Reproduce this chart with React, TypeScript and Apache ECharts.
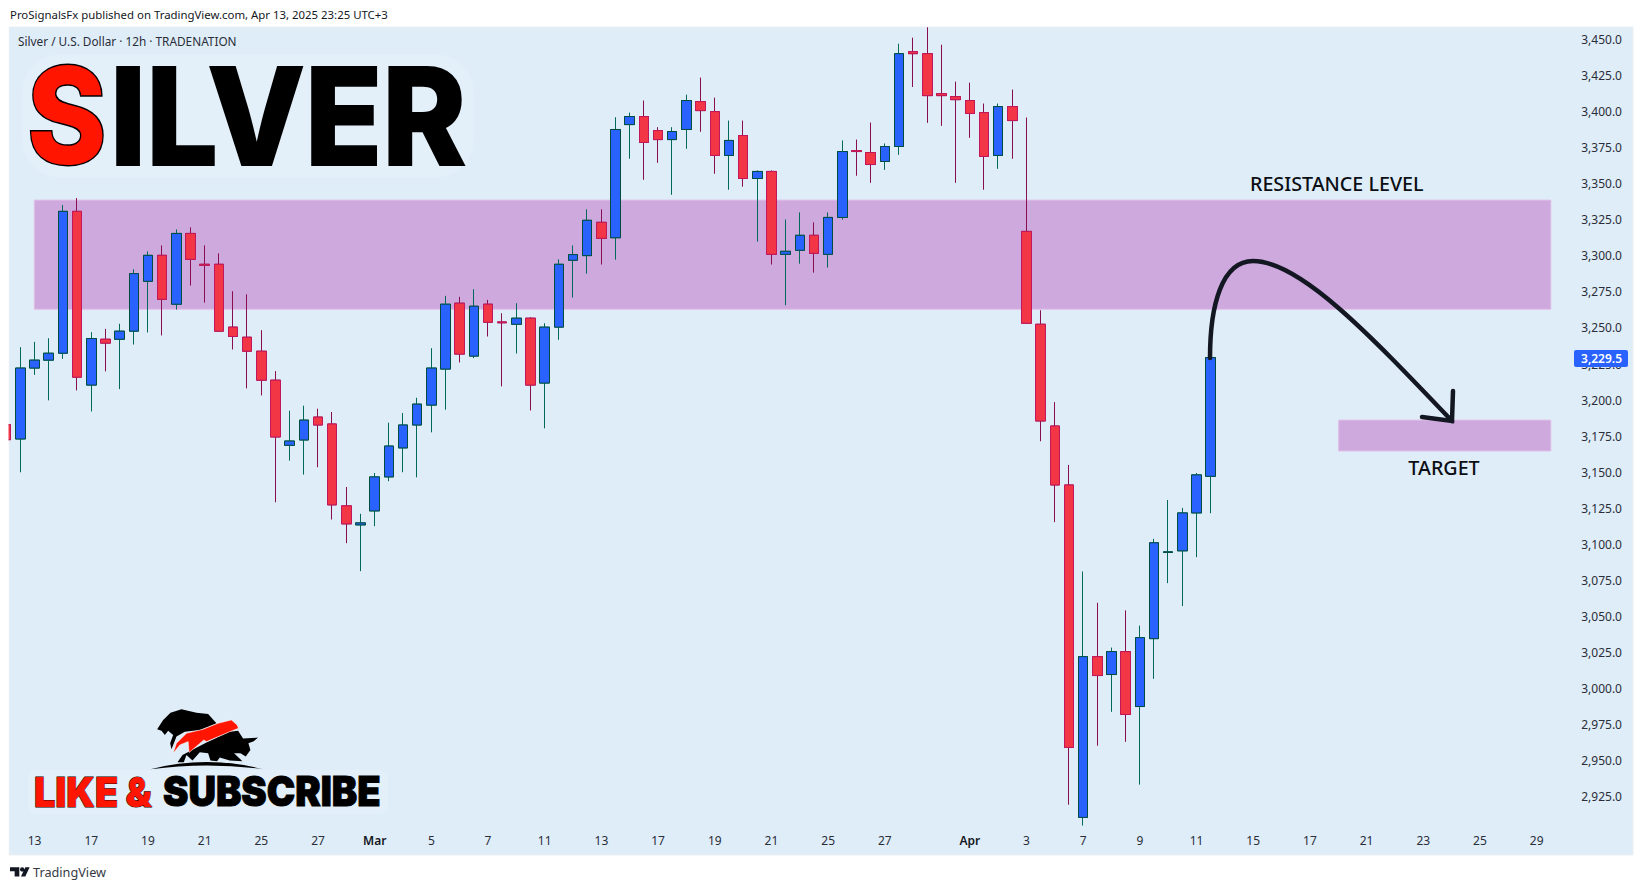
import React, { useEffect, useRef } from "react";
import * as echarts from "echarts";

const firstCandleIndex = -1;
const opens = [3182.9,3173.0,3222.2,3227.7,3232.5,3330.9,3210.4,3242.2,3242.2,3247.8,3282.4,3300.4,3266.5,3315.6,3294.2,3294.2,3250.6,3243.6,3233.9,3213.8,3168.6,3172.3,3188.2,3183.4,3126.6,3113.4,3123.1,3146.7,3166.8,3182.7,3196.5,3221.5,3267.2,3230.5,3266.5,3254.2,3252.6,3256.8,3211.8,3250.6,3297.0,3300.2,3323.3,3312.6,3391.1,3396.7,3387.0,3380.7,3387.7,3407.1,3400.1,3369.7,3383.5,3353.7,3358.6,3301.1,3303.9,3314.3,3301.1,3326.7,3373.1,3371.7,3365.5,3375.9,3441.7,3440.3,3412.6,3410.5,3407.8,3399.4,3369.7,3403.6,3317.0,3252.6,3182.0,3141.1,2910.5,3022.0,3009.6,3025.5,2987.4,3034.5,3094.3,3095.4,3121.7,3147.1];
const closes = [3172.5,3222.2,3227.7,3232.5,3330.9,3215.9,3242.7,3239.5,3247.8,3287.7,3300.4,3269.9,3315.6,3297.6,3293.5,3247.8,3244.1,3233.9,3213.8,3174.4,3171.6,3186.1,3182.7,3127.3,3114.1,3114.8,3146.7,3168.1,3182.7,3197.2,3222.2,3266.5,3231.9,3265.1,3254.0,3253.6,3256.8,3210.4,3250.6,3294.2,3300.9,3324.7,3312.2,3387.7,3396.7,3378.7,3380.7,3386.3,3407.8,3400.8,3369.7,3380.1,3353.7,3358.6,3301.1,3303.2,3314.3,3301.8,3326.7,3372.4,3372.4,3363.4,3375.9,3440.3,3440.3,3411.2,3411.2,3408.4,3398.8,3369.0,3403.6,3393.9,3253.3,3185.5,3141.1,2959.0,3022.0,3008.9,3025.5,2981.9,3035.2,3101.0,3094.7,3121.7,3148.1,3229.5];
const highs = [3186.0,3236.7,3240.4,3242.9,3335.3,3340.1,3247.1,3249.4,3252.9,3290.7,3303.2,3307.3,3318.4,3319.8,3307.3,3301.8,3275.5,3273.4,3248.5,3220.1,3192.6,3196.1,3194.0,3191.7,3139.7,3121.1,3149.4,3184.3,3191.0,3201.6,3236.0,3272.3,3271.6,3276.9,3269.5,3260.2,3267.2,3257.5,3253.3,3297.6,3307.3,3332.3,3332.3,3396.2,3399.4,3407.8,3389.3,3389.3,3411.9,3423.7,3409.8,3393.9,3393.9,3359.3,3359.3,3325.3,3330.2,3323.3,3330.2,3380.1,3380.7,3392.5,3378.0,3447.2,3451.4,3458.6,3446.5,3420.9,3420.2,3405.7,3405.7,3415.4,3396.0,3262.3,3198.6,3155.0,3081.1,3059.4,3028.3,3054.1,3043.5,3103.7,3130.7,3125.2,3149.4,3229.5];
const lows = [3170.0,3149.9,3217.5,3199.8,3228.6,3206.7,3192.1,3219.9,3207.6,3238.5,3246.9,3244.8,3262.8,3279.4,3267.6,3247.8,3235.1,3208.1,3203.2,3129.1,3158.0,3148.3,3153.4,3117.1,3100.7,3081.3,3112.5,3143.7,3149.9,3146.4,3177.6,3193.3,3226.1,3229.1,3244.1,3209.5,3232.3,3192.8,3180.4,3241.8,3271.1,3287.7,3294.0,3297.4,3367.4,3352.8,3364.6,3342.4,3374.3,3386.1,3357.0,3345.9,3348.0,3309.9,3294.0,3265.8,3294.6,3288.4,3291.9,3325.1,3355.6,3350.7,3359.7,3370.1,3417.2,3392.3,3390.2,3350.7,3381.9,3345.9,3360.4,3367.4,3253.3,3171.4,3115.3,2919.3,2904.8,2960.2,2983.7,2962.9,2933.2,3006.6,3073.0,3057.1,3091.0,3121.5];

const priceTicks = [2925,2950,2975,3000,3025,3050,3075,3100,3125,3150,3175,3200,3225,3250,3275,3300,3325,3350,3375,3400,3425,3450];
const dateTickPositions = [1,5,9,13,17,21,25,29,33,37,41,45,49,53,57,61,67,71,75,79,83,87,91,95,99,103,107];
const dateTickLabels = ["13","17","19","21","25","27","Mar","5","7","11","13","17","19","21","25","27","Apr","3","7","9","11","15","17","21","23","25","29"];
const resistanceZone = { priceTop: 3338.7, priceBottom: 3263.0, from: 0.98, to: 108.0 };
const targetZone = { priceTop: 3186.1, priceBottom: 3164.7, from: 93.03, to: 108.0 };
const lastPrice = 3229.5;

const BG = "#DFEDF8";
const ZONE = "#CEA9DE";
const ZONE_EDGE = "#E1BEE7";
const UP = "#2962FF";
const DOWN = "#F23645";

const bearPath = "M472,118 L490,90 L512,68 L545,58 L590,68 L625,72 L650,100 L600,120 L555,125 L530,140 L515,178 L511,160 L520,135 L505,122 L495,135 L485,122 Z";
const arrowPath = "M520,190 L530,160 L560,130 L610,118 L655,100 L695,90 L712,105 L716,115 L690,125 L620,155 L612,150 L568,188 L565,155 L540,165 Z";
const bullPath = "M533,217 L548,195 L568,185 L620,158 L690,125 L715,122 L730,146 L775,143 L762,154 L746,160 L752,180 L738,200 L722,190 L703,190 L728,214 L690,212 L660,203 L652,214 L632,212 L625,190 L600,187 L578,212 L560,195 L552,217 Z";
const groundPath = "M452,238 Q620,195 790,238 Q620,215 452,238 Z";
const tvPath = "M30,532 L58,532 L58,560 L44,560 L44,544 L30,544 Z M60,539 A6.5,6.5 0 1 1 73,539 A6.5,6.5 0 1 1 60,539 Z M76,532 L89,532 L76,560 L63,560 Z";
const curvePath = "M1210,358 C1210,305 1222,261 1253,261 C1300,261 1370,335 1452,421";
const headPath = "M1453,391 L1452,421 L1422,417";

export default function App() {
  const ref = useRef<HTMLDivElement>(null);
  useEffect(() => {
    document.body.style.margin = "0";
    document.body.style.background = "#fff";
    const reg = (name: string, d: string) => echarts.graphic.registerShape(name, echarts.graphic.extendPath(d, {}));
    reg("bear", bearPath);
    reg("bullArrow", arrowPath);
    reg("bull", bullPath);
    reg("ground", groundPath);
    reg("tvLogo", tvPath);
    reg("curve", curvePath);
    reg("head", headPath);

    const chart = echarts.init(ref.current!, null, { renderer: "svg" });
    const candles = opens.map((o, k) => [k + firstCandleIndex, o, closes[k], lows[k], highs[k]]);
    const bodies = opens.map((o, k) => [k + firstCandleIndex, o, closes[k], Math.min(o, closes[k]), Math.max(o, closes[k])]);
    const logoBase = { x: 0, y: 690, scaleX: 1 / 3, scaleY: 1 / 3 };
    const glow = { fill: "rgba(255,255,255,0.14)" };

    chart.setOption({
      animation: false,
      backgroundColor: "#ffffff",
      grid: { left: 9, top: 27, width: 1624, height: 828, show: true, backgroundColor: BG, borderColor: "#EDEFF1", borderWidth: 1, containLabel: false },
      xAxis: {
        type: "value", min: -0.805, max: 113.8, position: "bottom",
        axisLine: { show: false }, axisTick: { show: false }, splitLine: { show: false },
        axisLabel: {
          inside: true, margin: 9, color: "#2A2E39", fontFamily: "Noto Sans", fontSize: 12,
          customValues: dateTickPositions, hideOverlap: false,
          formatter: (v: number) => {
            const s = dateTickLabels[dateTickPositions.indexOf(v)] ?? "";
            return s === "Mar" || s === "Apr" ? `{m|${s}}` : s;
          },
          rich: { m: { fontWeight: 600, color: "#131722", fontFamily: "Noto Sans", fontSize: 12 } },
        },
      },
      yAxis: {
        type: "value", position: "right", min: 2884.4, max: 3458.8, scale: true,
        axisLine: { show: false }, axisTick: { show: false }, splitLine: { show: false },
        axisLabel: {
          inside: true, margin: 11, color: "#2A2E39", fontFamily: "Noto Sans", fontSize: 12,
          padding: [0, 0, 4, 0],
          customValues: priceTicks,
          formatter: (v: number) => v.toLocaleString("en-US", { minimumFractionDigits: 1, maximumFractionDigits: 1 }),
        },
      },
      series: [
        {
          name: "Silver wicks", type: "candlestick", data: candles, barWidth: 10, clip: true, z: 2,
          itemStyle: { color: UP, color0: DOWN, borderColor: "#00695C", borderColor0: "#880E4F", borderWidth: 1 },
          markArea: {
            silent: true, z: 1,
            itemStyle: { color: ZONE, borderColor: ZONE_EDGE, borderWidth: 1, opacity: 1 },
            label: { show: false },
            data: [
              [{ coord: [resistanceZone.from, resistanceZone.priceTop] }, { coord: [resistanceZone.to, resistanceZone.priceBottom] }],
              [{ coord: [targetZone.from, targetZone.priceTop] }, { coord: [targetZone.to, targetZone.priceBottom] }],
            ],
          },
        },
        {
          name: "Silver bodies", type: "candlestick", data: bodies, barWidth: 10, clip: true, z: 3,
          itemStyle: { color: UP, color0: DOWN, borderColor: "#004D40", borderColor0: "#C2185B", borderWidth: 1 },
        },
      ],
      graphic: [
        { type: "rect", z: 20, silent: true, shape: { x: 0, y: 27, width: 8.5, height: 828 }, style: { fill: "#fff" } },

        { type: "text", z: 10, x: 10, y: 14.5, style: { text: "ProSignalsFx published on TradingView.com, Apr 13, 2025 23:25 UTC+3", fill: "#131722", font: '11.4px "Noto Sans"', verticalAlign: "middle" } },
        { type: "text", z: 10, x: 18, y: 41, style: { text: "Silver / U.S. Dollar · 12h · TRADENATION", fill: "#2A2E39", font: '11.8px "Noto Sans"', verticalAlign: "middle" } },
        { type: "text", z: 10, x: 33, y: 871.5, style: { text: "TradingView", fill: "#363A45", font: '12.7px "Noto Sans"', verticalAlign: "middle" } },
        { type: "tvLogo", z: 10, x: 0, y: 690, scaleX: 1 / 3, scaleY: 1 / 3, style: { fill: "#131722" } },

        { type: "rect", z: 9, silent: true, shape: { x: 22, y: 54, width: 452, height: 124, r: 40 }, style: glow },
        { type: "text", z: 12, x: 27, y: 116, scaleX: 0.9, style: { text: "S", fill: "#FF1500", stroke: "#000", lineWidth: 3, font: '800 134px "Inter"', verticalAlign: "middle" } },
        { type: "text", z: 12, x: 110, y: 116, scaleX: 0.945, style: { text: "ILVER", fill: "#000", stroke: "#000", lineWidth: 2, lineJoin: "round", font: '800 134px "Inter"', verticalAlign: "middle" } },

        { type: "bear", z: 11, ...logoBase, style: { fill: "#000" } },
        { type: "bull", z: 11, ...logoBase, style: { fill: "#000" } },
        { type: "bullArrow", z: 12, ...logoBase, style: { fill: "#FF1500", stroke: "#fff", lineWidth: 1.5 } },
        { type: "ground", z: 11, ...logoBase, style: { fill: "#000" } },
        { type: "rect", z: 9, silent: true, shape: { x: 28, y: 770, width: 360, height: 44, r: 10 }, style: glow },
        { type: "text", z: 12, x: 34, y: 792, scaleX: 0.92, style: { text: "LIKE &", fill: "#FF1500", stroke: "#000", lineWidth: 1, font: '900 41px "Inter"', verticalAlign: "middle" } },
        { type: "text", z: 12, x: 163, y: 792, scaleX: 0.93, style: { text: "SUBSCRIBE", fill: "#000", stroke: "#000", lineWidth: 1, font: '900 41px "Inter"', verticalAlign: "middle" } },

        { type: "text", z: 10, x: 1336.7, y: 183, style: { text: "RESISTANCE LEVEL", fill: "#0B0E14", font: '500 19.7px "Noto Sans"', align: "center", verticalAlign: "middle" } },
        { type: "text", z: 10, x: 1444, y: 467, style: { text: "TARGET", fill: "#0B0E14", font: '500 19.7px "Noto Sans"', align: "center", verticalAlign: "middle" } },

        { type: "curve", z: 11, style: { fill: "none", stroke: "#131722", lineWidth: 4.5, lineCap: "round" } },
        { type: "head", z: 11, style: { fill: "none", stroke: "#131722", lineWidth: 4.5, lineCap: "round", lineJoin: "miter" } },

        { type: "rect", z: 13, shape: { x: 1574, y: 350, width: 54, height: 17, r: 2 }, style: { fill: UP } },
        { type: "text", z: 14, x: 1622, y: 358, style: { text: lastPrice.toLocaleString("en-US", { minimumFractionDigits: 1 }), fill: "#fff", font: '600 12px "Noto Sans"', align: "right", verticalAlign: "middle" } },
      ],
    });
    return () => chart.dispose();
  }, []);
  return <div ref={ref} style={{ position: "absolute", left: 0, top: 0, width: 1643, height: 890 }} />;
}
